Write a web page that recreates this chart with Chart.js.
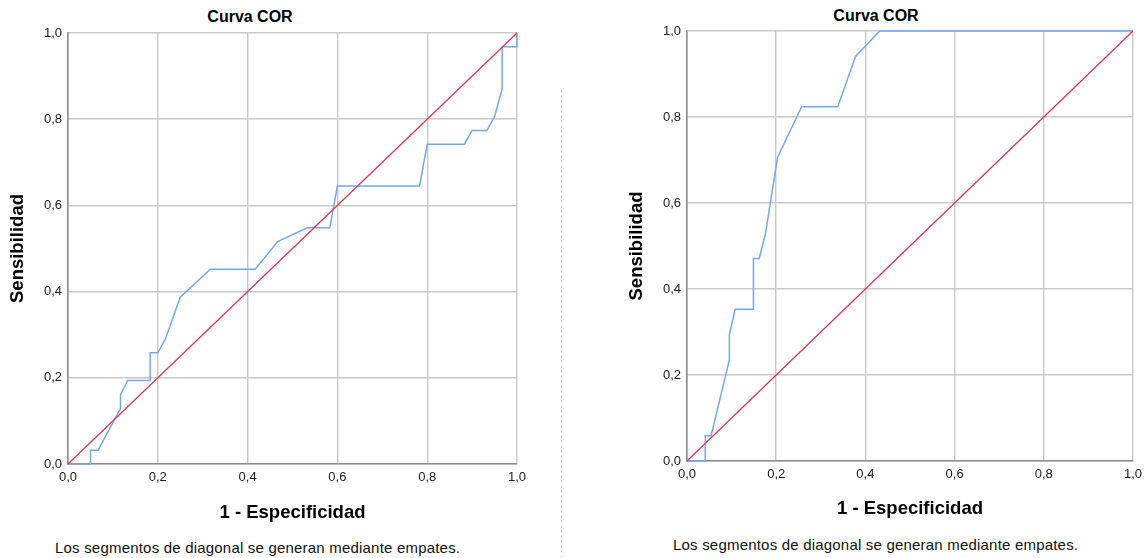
<!DOCTYPE html>
<html>
<head>
<meta charset="utf-8">
<title>Curva COR</title>
<script src="https://cdn.jsdelivr.net/npm/chart.js@4/dist/chart.umd.min.js"></script>
<style>
  html, body { margin: 0; padding: 0; background: #fff; width: 1148px; height: 558px; overflow: hidden;
               font-family: 'Liberation Sans', Arial, sans-serif; }
  canvas { position: absolute; top: 0; }
  .title { position: absolute; font-weight: bold; font-size: 16px; line-height: 18px; color: #000;
           white-space: nowrap; transform: translateX(-50%); }
  .note { position: absolute; font-size: 15px; line-height: 17px; color: #111; white-space: nowrap; letter-spacing: 0.2px; }
  .sep { position: absolute; left: 561px; top: 90px; height: 468px; border-left: 1px dashed #d4d4d4; }
</style>
</head>
<body>
<div class="title" style="left:250px; top:8px;">Curva COR</div>
<div class="title" style="left:876px; top:7px;">Curva COR</div>
<canvas id="rocLeft" width="545" height="530" style="left:0px; width:545px; height:530px;"></canvas>
<canvas id="rocRight" width="528" height="530" style="left:620px; width:528px; height:530px;"></canvas>
<div class="sep"></div>
<div class="note" style="left:55px; top:539px;">Los segmentos de diagonal se generan mediante empates.</div>
<div class="note" style="left:673px; top:536px;">Los segmentos de diagonal se generan mediante empates.</div>

<script>
// Axis ticks (both axes, both charts)
const tickValues = [0, 0.2, 0.4, 0.6, 0.8, 1.0];
const tickLabels = ['0,0', '0,2', '0,4', '0,6', '0,8', '1,0'];

// Reference diagonal
const diagX = [0, 1];
const diagY = [0, 1];

// ROC curve, first test: 1 - especificidad / sensibilidad
const fprLeft = [0, 0.05, 0.05, 0.067, 0.117, 0.117, 0.133, 0.183, 0.183, 0.2, 0.217, 0.25, 0.317,
                 0.417, 0.467, 0.533, 0.583, 0.6, 0.783, 0.8, 0.883, 0.9, 0.933, 0.95, 0.967, 0.967, 1, 1];
const tprLeft = [0, 0, 0.032, 0.032, 0.129, 0.161, 0.194, 0.194, 0.258, 0.258, 0.29, 0.387, 0.452,
                 0.452, 0.516, 0.548, 0.548, 0.645, 0.645, 0.742, 0.742, 0.774, 0.774, 0.806, 0.871, 0.968, 0.968, 1];

// ROC curve, second test
const fprRight = [0, 0.041, 0.041, 0.054, 0.095, 0.095, 0.108, 0.149, 0.149, 0.162, 0.176, 0.203,
                  0.257, 0.338, 0.378, 0.432, 1];
const tprRight = [0, 0, 0.059, 0.059, 0.235, 0.294, 0.353, 0.353, 0.471, 0.471, 0.529, 0.706,
                  0.824, 0.824, 0.941, 1, 1];

const FONT = "'Liberation Sans', Arial, sans-serif";
const BLUE = 'rgb(116,168,238)';
const RED = 'rgb(224,52,92)';

function toPoints(xs, ys) { return xs.map((x, i) => ({ x: x, y: ys[i] })); }

function axis(kind, box) {
  const isX = kind === 'x';
  return {
    type: 'linear',
    position: isX ? 'bottom' : 'left',
    min: 0, max: 1,
    afterBuildTicks: s => { s.ticks = tickValues.map(v => ({ value: v })); },
    afterFit: s => { if (isX) s.height = box.xHeight; else s.width = box.yWidth; },
    ticks: {
      autoSkip: false, maxRotation: 0, padding: 6, color: '#1a1a1a',
      font: { family: FONT, size: 13 },
      callback: v => tickLabels[tickValues.findIndex(t => Math.abs(t - v) < 1e-9)]
    },
    grid: { color: '#c9c9c9', lineWidth: 1.4, drawTicks: false },
    border: { color: '#8d8d8d', width: 1.6 },
    title: {
      display: true,
      text: isX ? '1 - Especificidad' : 'Sensibilidad',
      color: '#000',
      font: { family: FONT, size: 18.5, weight: 'bold' },
      padding: isX ? { top: 0, bottom: box.xTitlePad } : { top: box.yTitlePad, bottom: 0 }
    }
  };
}

function rocChart(id, fpr, tpr, box) {
  return new Chart(document.getElementById(id), {
    type: 'scatter',
    data: {
      datasets: [
        { label: 'Línea de referencia', data: toPoints(diagX, diagY), showLine: true, clip: 4,
          borderColor: RED, borderWidth: 1.3, pointRadius: 0, tension: 0 },
        { label: 'Curva COR', data: toPoints(fpr, tpr), showLine: true, clip: 4,
          borderColor: BLUE, borderWidth: 1.5, pointRadius: 0, tension: 0 }
      ]
    },
    options: {
      responsive: false,
      animation: false,
      layout: { padding: box.padding },
      plugins: { legend: { display: false }, tooltip: { enabled: false } },
      scales: { x: axis('x', box), y: axis('y', box) }
    }
  });
}

rocChart('rocLeft', fprLeft, tprLeft, {
  padding: { left: 0, top: 33, right: 28, bottom: 0 },
  yWidth: 68, xHeight: 66, yTitlePad: 7, xTitlePad: 6
});

rocChart('rocRight', fprRight, tprRight, {
  padding: { left: 0, top: 31, right: 14, bottom: 0 },
  yWidth: 67, xHeight: 69, yTitlePad: 6, xTitlePad: 10
});
</script>
</body>
</html>
